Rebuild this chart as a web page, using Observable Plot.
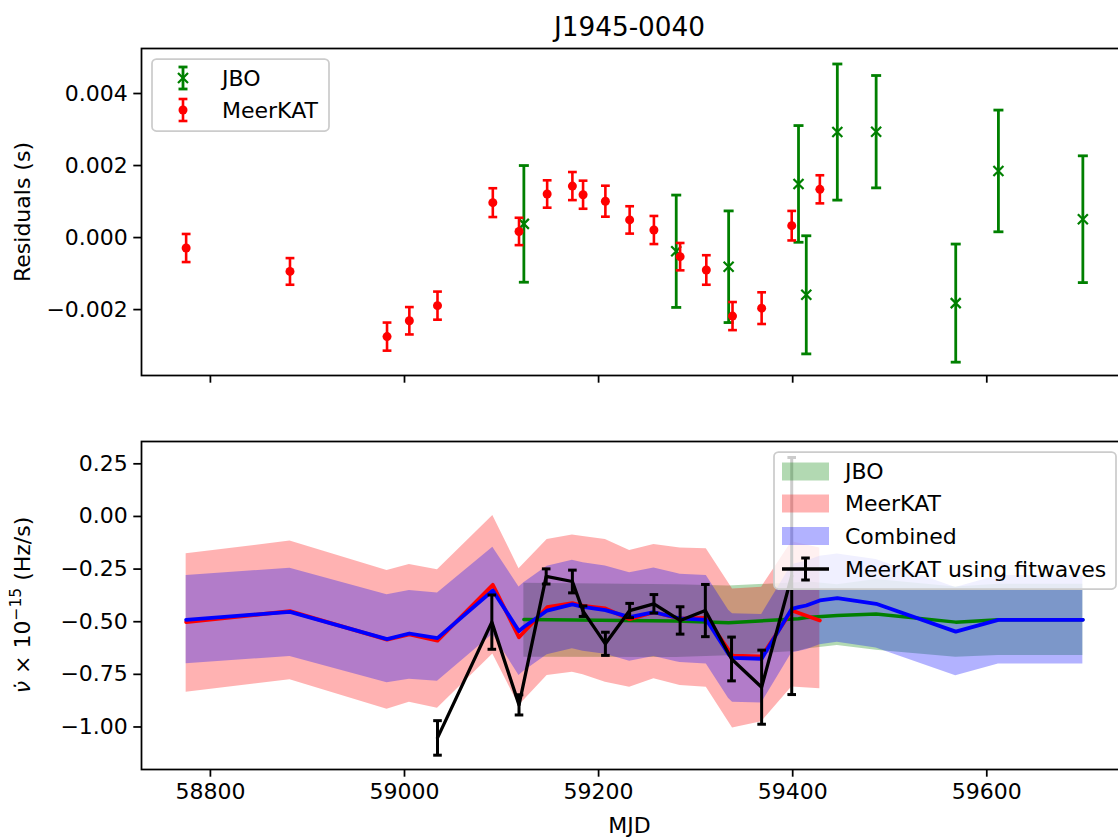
<!DOCTYPE html>
<html>
<head>
<meta charset="utf-8">
<script src="https://cdn.jsdelivr.net/npm/d3@7"></script>
<script src="https://cdn.jsdelivr.net/npm/@observablehq/plot@0.6"></script>
<style>
  html, body { margin: 0; padding: 0; background: white; overflow: hidden; }
  svg { max-width: none !important; display: block; }
</style>
</head>
<body>
<div id="chart"></div>
<script>
// ---------- Data ----------
const title = "J1945-0040";

// Top panel: timing residuals (s)
const meerMJD = [58775, 58882, 58982, 59005, 59034, 59091, 59118, 59147, 59173, 59184, 59207, 59232, 59257, 59284, 59311, 59338, 59368, 59399, 59428];
const meerRes = [-0.00029, -0.00094, -0.00275, -0.00231, -0.00189, 0.00097, 0.00017, 0.00121, 0.00143, 0.00119, 0.00101, 0.00049, 0.00021, -0.00053, -0.00090, -0.00218, -0.00196, 0.00033, 0.00134];
const meerErr = [0.00039, 0.00037, 0.00039, 0.00038, 0.00039, 0.00040, 0.00038, 0.00038, 0.00039, 0.00039, 0.00043, 0.00038, 0.00039, 0.00038, 0.00041, 0.00039, 0.00044, 0.00041, 0.00039];

const jboMJD = [59123, 59280, 59334, 59406, 59414, 59446, 59486, 59568, 59612, 59699];
const jboRes = [0.00038, -0.00038, -0.00081, 0.00149, -0.00159, 0.00293, 0.00294, -0.00182, 0.00185, 0.00051];
const jboErr = [0.00162, 0.00156, 0.00155, 0.00162, 0.00164, 0.00189, 0.00156, 0.00164, 0.00169, 0.00176];

// Bottom panel: nu-dot (1e-15 Hz/s)
const jboLine  = [-0.490, -0.497, -0.505, -0.486, -0.480, -0.470, -0.463, -0.502, -0.491, -0.491];
const jboUpper = [-0.317, -0.325, -0.330, -0.315, -0.310, -0.325, -0.300, -0.335, -0.322, -0.322];
const jboLower = [-0.669, -0.670, -0.662, -0.640, -0.630, -0.613, -0.635, -0.669, -0.660, -0.660];

const meerLine  = [-0.502, -0.450, -0.585, -0.560, -0.590, -0.325, -0.574, -0.431, -0.412, -0.425, -0.437, -0.488, -0.455, -0.486, -0.482, -0.661, -0.665, -0.447, -0.494];
const meerUpper = [-0.177, -0.117, -0.257, -0.228, -0.253, 0.005, -0.248, -0.110, -0.088, -0.095, -0.110, -0.162, -0.133, -0.150, -0.154, -0.345, -0.336, -0.120, -0.150];
const meerLower = [-0.835, -0.776, -0.916, -0.882, -0.911, -0.653, -0.898, -0.755, -0.740, -0.752, -0.787, -0.811, -0.771, -0.803, -0.811, -1.005, -0.975, -0.810, -0.818];

const combMJD   = [58775, 58882, 58982, 59005, 59034, 59091, 59118, 59123, 59147, 59173, 59184, 59207, 59232, 59257, 59280, 59284, 59311, 59334, 59338, 59368, 59399, 59406, 59414, 59428, 59446, 59486, 59568, 59612, 59699];
const combLine  = [-0.491, -0.453, -0.583, -0.556, -0.578, -0.352, -0.545, -0.525, -0.447, -0.418, -0.430, -0.445, -0.478, -0.455, -0.480, -0.484, -0.491, -0.655, -0.672, -0.676, -0.439, -0.431, -0.423, -0.399, -0.388, -0.415, -0.547, -0.491, -0.491];
const combUpper = [-0.280, -0.246, -0.372, -0.352, -0.364, -0.146, -0.335, -0.315, -0.237, -0.208, -0.220, -0.235, -0.268, -0.245, -0.270, -0.274, -0.281, -0.445, -0.462, -0.466, -0.229, -0.221, -0.213, -0.189, -0.178, -0.205, -0.337, -0.281, -0.281];
const combLower = [-0.700, -0.665, -0.790, -0.773, -0.783, -0.560, -0.755, -0.735, -0.657, -0.628, -0.640, -0.655, -0.688, -0.665, -0.690, -0.694, -0.701, -0.865, -0.882, -0.886, -0.649, -0.641, -0.633, -0.609, -0.598, -0.625, -0.757, -0.701, -0.701];

const fwMJD = [59034, 59090, 59118, 59146, 59173, 59184, 59207, 59232, 59257, 59284, 59310, 59337, 59368, 59399];
const fwVal = [-1.052, -0.502, -0.895, -0.285, -0.309, -0.450, -0.605, -0.447, -0.415, -0.494, -0.447, -0.677, -0.811, -0.283];
const fwErr = [0.082, 0.129, 0.048, 0.036, 0.054, 0.025, 0.055, 0.034, 0.044, 0.065, 0.124, 0.104, 0.176, 0.563];

const xTicks = [58800, 59000, 59200, 59400, 59600];
const xTickLabels = ["58800", "59000", "59200", "59400", "59600"];
const topYTicks = [-0.002, 0.000, 0.002, 0.004];
const topYTickLabels = ["\u22120.002", "0.000", "0.002", "0.004"];
const botYTicks = [0.25, 0.00, -0.25, -0.50, -0.75, -1.00];
const botYTickLabels = ["0.25", "0.00", "\u22120.25", "\u22120.50", "\u22120.75", "\u22121.00"];

const topLegendLabels = ["JBO", "MeerKAT"];
const botLegendLabels = ["JBO", "MeerKAT", "Combined", "MeerKAT using fitwaves"];

// ---------- Tables ----------
const meerRows = meerMJD.map((m, i) => ({mjd: m, v: meerRes[i], e: meerErr[i]}));
const jboRows = jboMJD.map((m, i) => ({mjd: m, v: jboRes[i], e: jboErr[i]}));
const jboBand = jboMJD.map((m, i) => ({mjd: m, v: jboLine[i], lo: jboLower[i], hi: jboUpper[i]}));
const meerBand = meerMJD.map((m, i) => ({mjd: m, v: meerLine[i], lo: meerLower[i], hi: meerUpper[i]}));
const combBand = combMJD.map((m, i) => ({mjd: m, v: combLine[i], lo: combLower[i], hi: combUpper[i]}));
const fwRows = fwMJD.map((m, i) => ({mjd: m, v: fwVal[i], e: fwErr[i]}));

// ---------- Styles ----------
const FONT = "DejaVu Sans";
const FS = 22;
const W = 1127;
const ML = 141;
const TICK = 7.7;
const SPINE = 1.75;
const xDomain = [58729, 59745];

const capSymbol = {draw(ctx, size) { const w = Math.sqrt(size / Math.PI); ctx.moveTo(-w, 0); ctx.lineTo(w, 0); }};
const xSymbol = {draw(ctx, size) { const w = Math.sqrt(size / Math.PI); ctx.moveTo(-w, -w); ctx.lineTo(w, w); ctx.moveTo(-w, w); ctx.lineTo(w, -w); }};

function errMarks(data, color, lw, capR) {
  return [
    Plot.ruleX(data, {x: "mjd", y1: d => d.v - d.e, y2: d => d.v + d.e, stroke: color, strokeWidth: lw}),
    Plot.dot(data, {x: "mjd", y: d => d.v - d.e, symbol: capSymbol, r: capR, stroke: color, fill: "none", strokeWidth: lw}),
    Plot.dot(data, {x: "mjd", y: d => d.v + d.e, symbol: capSymbol, r: capR, stroke: color, fill: "none", strokeWidth: lw})
  ];
}

const styleObj = {fontFamily: FONT, fontSize: FS + "px", background: "white", maxWidth: "none", overflow: "visible", color: "black"};

// ---------- Top panel ----------
const topSvg = Plot.plot({
  width: W, height: 408,
  marginTop: 48, marginBottom: 33, marginLeft: ML, marginRight: 0,
  style: styleObj,
  x: {domain: xDomain},
  y: {domain: [-0.00383, 0.00525]},
  marks: [
    ...errMarks(jboRows, "green", 2.8, 5),
    Plot.dot(jboRows, {x: "mjd", y: "v", symbol: xSymbol, r: 5, stroke: "green", fill: "none", strokeWidth: 2.2}),
    ...errMarks(meerRows, "red", 2.6, 4.4),
    Plot.dot(meerRows, {x: "mjd", y: "v", r: 4.5, fill: "red", stroke: "none"}),
    Plot.axisX({ticks: xTicks, tickFormat: () => "", tickSize: TICK, strokeWidth: SPINE, label: null}),
    Plot.axisY({ticks: topYTicks, tickFormat: (d, i) => topYTickLabels[i], tickSize: TICK, tickPadding: 6, strokeWidth: SPINE, label: null, fontSize: FS}),
    Plot.frame({stroke: "black", strokeWidth: SPINE}),
    Plot.text([title], {frameAnchor: "top", dx: -5, dy: -21, lineAnchor: "middle", textAnchor: "middle", fontSize: 26.3, fill: "black"}),
    Plot.text(["Residuals (s)"], {frameAnchor: "left", rotate: -90, dx: -119, lineAnchor: "middle", textAnchor: "middle", fontSize: FS, fill: "black"})
  ]
});

// legend (top)
{
  const g = d3.select(topSvg).append("g").attr("font-family", FONT).attr("font-size", FS).attr("text-anchor", "start").attr("fill", "black");
  g.append("rect").attr("x", 152).attr("y", 59).attr("width", 177).attr("height", 72).attr("rx", 4.4)
    .attr("fill", "white").attr("fill-opacity", 0.8).attr("stroke", "#cccccc").attr("stroke-width", SPINE);
  const hx = 183;
  const yj = 78;
  g.append("line").attr("x1", hx).attr("x2", hx).attr("y1", yj - 11).attr("y2", yj + 11).attr("stroke", "green").attr("stroke-width", 2.8);
  [yj - 11, yj + 11].forEach(y => g.append("line").attr("x1", hx - 4.5).attr("x2", hx + 4.5).attr("y1", y).attr("y2", y).attr("stroke", "green").attr("stroke-width", 2.8));
  g.append("path").attr("d", `M${hx-5},${yj-5}L${hx+5},${yj+5}M${hx-5},${yj+5}L${hx+5},${yj-5}`).attr("stroke", "green").attr("stroke-width", 2.2);
  g.append("text").attr("x", 222).attr("y", yj).attr("dy", "0.35em").text(topLegendLabels[0]);
  const ym = 110;
  g.append("line").attr("x1", hx).attr("x2", hx).attr("y1", ym - 11).attr("y2", ym + 11).attr("stroke", "red").attr("stroke-width", 2.6);
  [ym - 11, ym + 11].forEach(y => g.append("line").attr("x1", hx - 4.4).attr("x2", hx + 4.4).attr("y1", y).attr("y2", y).attr("stroke", "red").attr("stroke-width", 2.6));
  g.append("circle").attr("cx", hx).attr("cy", ym).attr("r", 4.5).attr("fill", "red");
  g.append("text").attr("x", 222).attr("y", ym).attr("dy", "0.35em").text(topLegendLabels[1]);
}

// ---------- Bottom panel ----------
const botSvg = Plot.plot({
  width: W, height: 432,
  marginTop: 33, marginBottom: 71, marginLeft: ML, marginRight: 0,
  style: styleObj,
  x: {domain: xDomain},
  y: {domain: [-1.202, 0.356]},
  marks: [
    Plot.areaY(jboBand, {x: "mjd", y1: "lo", y2: "hi", fill: "green", fillOpacity: 0.3}),
    Plot.areaY(meerBand, {x: "mjd", y1: "lo", y2: "hi", fill: "red", fillOpacity: 0.3}),
    Plot.areaY(combBand, {x: "mjd", y1: "lo", y2: "hi", fill: "blue", fillOpacity: 0.3}),
    Plot.line(jboBand, {x: "mjd", y: "v", stroke: "green", strokeWidth: 3.5}),
    Plot.line(meerBand, {x: "mjd", y: "v", stroke: "red", strokeWidth: 3.8}),
    Plot.line(combBand, {x: "mjd", y: "v", stroke: "blue", strokeWidth: 3.8}),
    Plot.line(fwRows, {x: "mjd", y: "v", stroke: "black", strokeWidth: 3.3}),
    ...errMarks(fwRows, "black", 3.0, 4.3),
    Plot.axisX({ticks: xTicks, tickFormat: (d, i) => xTickLabels[i], tickSize: TICK, tickPadding: 6, strokeWidth: SPINE, label: null, fontSize: FS}),
    Plot.axisY({ticks: botYTicks, tickFormat: (d, i) => botYTickLabels[i], tickSize: TICK, tickPadding: 6, strokeWidth: SPINE, label: null, fontSize: FS}),
    Plot.frame({stroke: "black", strokeWidth: SPINE}),
    Plot.text(["MJD"], {frameAnchor: "bottom", dx: -5, dy: 56, lineAnchor: "middle", textAnchor: "middle", fontSize: FS, fill: "black"})
  ]
});

{
  const g = d3.select(botSvg).append("g").attr("font-family", FONT).attr("font-size", FS).attr("fill", "black");
  const cy = (33 + (432 - 71)) / 2;
  const t = g.append("text").attr("transform", `translate(22,${cy}) rotate(-90)`).attr("text-anchor", "middle").attr("dy", "0.35em");
  t.append("tspan").attr("font-style", "italic").text("\u03BD\u0307");
  t.append("tspan").text(" \u00D7 10");
  t.append("tspan").attr("dy", -9).attr("font-size", 15.5).text("\u221215");
  t.append("tspan").attr("dy", 9).text(" (Hz/s)");
}

{
  const g = d3.select(botSvg).append("g").attr("font-family", FONT).attr("font-size", FS).attr("text-anchor", "start").attr("fill", "black");
  g.append("rect").attr("x", 774).attr("y", 44).attr("width", 342).attr("height", 137).attr("rx", 4.4)
    .attr("fill", "white").attr("fill-opacity", 0.8).attr("stroke", "#cccccc").attr("stroke-width", SPINE);
  const colors = ["green", "red", "blue"];
  const ys = [63.5, 95.5, 128, 161];
  colors.forEach((c, i) => {
    g.append("rect").attr("x", 782).attr("y", ys[i] - 9).attr("width", 47).attr("height", 18).attr("fill", c).attr("fill-opacity", 0.3);
    g.append("text").attr("x", 845).attr("y", ys[i]).attr("dy", "0.35em").text(botLegendLabels[i]);
  });
  const y4 = ys[3], hx = 805.5;
  g.append("line").attr("x1", 782).attr("x2", 829).attr("y1", y4).attr("y2", y4).attr("stroke", "black").attr("stroke-width", 3.3);
  g.append("line").attr("x1", hx).attr("x2", hx).attr("y1", y4 - 11).attr("y2", y4 + 11).attr("stroke", "black").attr("stroke-width", 3.0);
  [y4 - 11, y4 + 11].forEach(y => g.append("line").attr("x1", hx - 4.3).attr("x2", hx + 4.3).attr("y1", y).attr("y2", y).attr("stroke", "black").attr("stroke-width", 3.0));
  g.append("text").attr("x", 845).attr("y", y4).attr("dy", "0.35em").text(botLegendLabels[3]);
}

const chart = document.getElementById("chart");
chart.appendChild(topSvg);
chart.appendChild(botSvg);
</script>
</body>
</html>
